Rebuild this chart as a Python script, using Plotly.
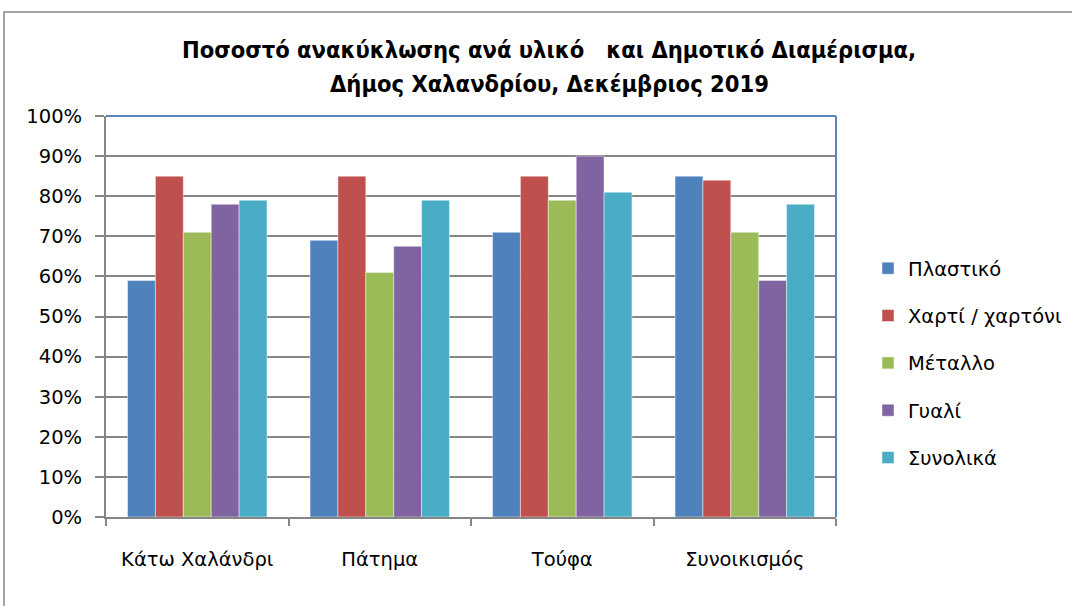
import plotly.graph_objects as go

categories = ["Κάτω Χαλάνδρι", "Πάτημα", "Τούφα", "Συνοικισμός"]
series_names = ["Πλαστικό", "Χαρτί / χαρτόνι", "Μέταλλο", "Γυαλί", "Συνολικά"]
plastic = [0.59, 0.69, 0.71, 0.85]
paper = [0.85, 0.85, 0.85, 0.84]
metal = [0.71, 0.61, 0.79, 0.71]
glass = [0.78, 0.675, 0.90, 0.59]
total = [0.79, 0.79, 0.81, 0.78]
y_ticks = [0, 0.1, 0.2, 0.3, 0.4, 0.5, 0.6, 0.7, 0.8, 0.9, 1.0]
title_lines = ["Ποσοστό ανακύκλωσης ανά υλικό   και Δημοτικό Διαμέρισμα,",
               "Δήμος Χαλανδρίου, Δεκέμβριος 2019"]

colors = ["#4F81BD", "#C0504D", "#9BBB59", "#8064A2", "#4BACC6"]
values = [plastic, paper, metal, glass, total]

FONT = "DejaVu Sans, Verdana, sans-serif"
TITLE_FONT = "DejaVu Sans Condensed, sans-serif"
GREY = "#868686"

fig = go.Figure()
for name, vals, col in zip(series_names, values, colors):
    fig.add_trace(go.Bar(
        x=categories, y=vals, name=name, legendgroup=name,
        marker=dict(color=col, line=dict(color="rgba(255,255,255,0.45)", width=1)),
    ))

L, R, T, B = 106, 236, 116, 89
W, H = 1072, 606
pw, ph = W - L - R, H - T - B

def px_x(x):
    return (x - L) / pw

def px_y(y):
    return 1 - (y - T) / ph

shapes = [
    dict(type="rect", xref="paper", yref="paper",
         x0=px_x(4), x1=px_x(1085), y0=px_y(12), y1=px_y(620),
         line=dict(color=GREY, width=1.5), layer="below"),
    dict(type="line", xref="paper", yref="paper", x0=0, x1=1, y0=1, y1=1,
         line=dict(color="#5B83C0", width=2), layer="above"),
    dict(type="line", xref="paper", yref="paper", x0=1, x1=1, y0=0, y1=1,
         line=dict(color="#5B83C0", width=2), layer="above"),
]

annotations = [
    dict(text="<b>" + title_lines[0] + "</b>", xref="paper", yref="paper",
         x=px_x(549), y=px_y(50), xanchor="center", yanchor="middle",
         showarrow=False, font=dict(family=TITLE_FONT, size=23.5, color="black")),
    dict(text="<b>" + title_lines[1] + "</b>", xref="paper", yref="paper",
         x=px_x(549), y=px_y(84), xanchor="center", yanchor="middle",
         showarrow=False, font=dict(family=TITLE_FONT, size=23.5, color="black")),
]

fig.update_layout(
    width=W, height=H,
    margin=dict(l=L, r=R, t=T, b=B, autoexpand=False),
    paper_bgcolor="white", plot_bgcolor="white",
    barmode="group", bargap=0.236, bargroupgap=0,
    font=dict(family=FONT, size=19.5, color="black"),
    shapes=shapes, annotations=annotations,
    showlegend=True,
    legend=dict(x=px_x(868), y=px_y(363), xanchor="left", yanchor="middle",
                tracegroupgap=19, font=dict(family=FONT, size=19.5, color="black"),
                bgcolor="rgba(0,0,0,0)", itemclick=False),
    xaxis=dict(showline=True, linecolor=GREY, linewidth=2, ticks="outside",
               tickson="boundaries", ticklen=7, tickwidth=2, tickcolor=GREY,
               showgrid=False, ticklabelstandoff=24,
               tickfont=dict(family=FONT, size=19.5)),
    yaxis=dict(range=[0, 1], tickvals=y_ticks, tickformat=".0%",
               showline=True, linecolor=GREY, linewidth=2,
               ticks="outside", ticklen=9, tickwidth=2, tickcolor=GREY,
               showgrid=True, gridcolor=GREY, gridwidth=2,
               zeroline=False, ticklabelstandoff=9,
               tickfont=dict(family=FONT, size=19.5)),
)

fig.write_html("out.html", config={"displayModeBar": False},
               post_script="document.body.style.margin='0';document.body.style.padding='0';")
